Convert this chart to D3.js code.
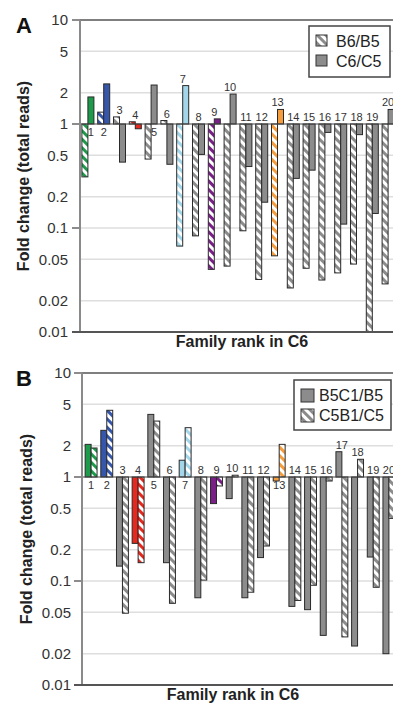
<!DOCTYPE html>
<html>

<head>
  <title>Fold change by family rank</title>
  <meta charset="UTF-8" />
  <script src="https://cdn.jsdelivr.net/npm/d3@7"></script>
</head>

<style>
  body {
    margin: 0;
    background: #fff;
    font-family: 'Liberation Sans', Arial, sans-serif;
  }

  svg {
    display: block;
  }
</style>

<body>
  <svg id="chart"></svg>
  <script>
    // families ranked in C6
    const families = ['1', '2', '3', '4', '5', '6', '7', '8', '9', '10',
      '11', '12', '13', '14', '15', '16', '17', '18', '19', '20'];

    const yTicks = [10, 5, 2, 1, 0.5, 0.2, 0.1, 0.05, 0.02, 0.01];
    const yTickLabels = ['10', '5', '2', '1', '0.5', '0.2', '0.1', '0.05', '0.02', '0.01'];

    // panel A
    const b6b5 = [0.31, 1.3, 1.17, 1.05, 0.46, 1.08, 0.067, 0.084, 0.040, 0.043,
      0.094, 0.032, 0.054, 0.0265, 0.041, 0.0316, 0.037, 0.045, 0.01, 0.029];
    const c6c5 = [1.82, 2.43, 0.43, 0.9, 2.37, 0.41, 2.34, 0.51, 1.12, 1.94,
      0.39, 0.177, 1.38, 0.30, 0.36, 0.83, 0.109, 0.79, 0.138, 1.38];

    // panel B
    const b5c1b5 = [2.06, 2.81, 0.139, 0.23, 4.0, 0.15, 1.45, 0.069, 0.555, 0.62,
      0.069, 0.168, 0.915, 0.057, 0.053, 0.030, 1.75, 0.0237, 0.17, 0.020];
    const c5b1c5 = [1.9, 4.38, 0.049, 0.15, 3.45, 0.061, 2.98, 0.102, 0.82, 1.04,
      0.078, 0.217, 2.06, 0.065, 0.091, 0.915, 0.029, 1.48, 0.087, 0.4];

    // family numbers drawn under the 1-line instead of above the bars
    const labelsBelowA = ['1', '2', '5'];
    const labelsBelowB = ['1', '2', '5', '7', '13'];

    const familyColors = {
      '1': '#1e9a4b', '2': '#3556aa', '4': '#e8271d',
      '7': '#a3d6e8', '9': '#7a1f88', '13': '#f59d3d'
    };
    const grey = '#8c8c8c';

    let width = 393,
      height = 706;

    let svg = d3.select('#chart').attr('width', width).attr('height', height);

    // hatch patterns, one per colour
    let defs = svg.append('defs');
    let hatchColors = [grey].concat(Object.values(familyColors));
    hatchColors.forEach(c => {
      let p = defs.append('pattern')
        .attr('id', 'hatch' + c.slice(1))
        .attr('patternUnits', 'userSpaceOnUse')
        .attr('width', 6).attr('height', 6)
        .attr('patternTransform', 'rotate(-45)');
      p.append('rect').attr('width', 6).attr('height', 6).attr('fill', '#fff');
      p.append('rect').attr('width', 3).attr('height', 6).attr('fill', c);
    });

    function colorOf(f) {
      return familyColors[f] || grey;
    }

    function drawPanel(cfg) {
      let g = svg.append('g');
      let y = d3.scaleLog().domain([0.01, 10]).range([cfg.bottom, cfg.top]);
      let x = d3.scaleBand().domain(families)
        .range([cfg.axisX, cfg.axisX + 316])
        .paddingInner(0.24).paddingOuter(cfg.outer);
      let xs = d3.scaleBand().domain([0, 1]).range([0, x.bandwidth()]);
      let right = width + 10;

      // grid
      g.append('g').selectAll('line')
        .data(yTicks.filter(t => t != 10 && t != 1 && t != 0.01))
        .enter().append('line')
        .attr('x1', cfg.axisX).attr('x2', right)
        .attr('y1', d => y(d)).attr('y2', d => y(d))
        .attr('stroke', '#dedede').attr('stroke-width', 1.5);

      // tick marks on decades
      g.append('g').selectAll('line')
        .data([10, 1, 0.1, 0.01])
        .enter().append('line')
        .attr('x1', cfg.axisX - 8).attr('x2', cfg.axisX)
        .attr('y1', d => y(d)).attr('y2', d => y(d))
        .attr('stroke', '#666').attr('stroke-width', 1.5);

      // y labels
      let axis = g.append('g')
        .attr('transform', 'translate(' + cfg.axisX + ',0)')
        .call(d3.axisLeft(y).tickValues(yTicks)
          .tickFormat((d, i) => yTickLabels[i]).tickSize(0).tickPadding(cfg.pad));
      axis.select('.domain').remove();
      axis.selectAll('text')
        .attr('font-family', "'Liberation Sans', Arial, sans-serif")
        .attr('font-size', 15).attr('fill', '#333');

      // top frame
      g.append('line')
        .attr('x1', cfg.axisX).attr('x2', right)
        .attr('y1', y(10)).attr('y2', y(10))
        .attr('stroke', '#555').attr('stroke-width', 1.5);

      // bars
      let bars = [];
      families.forEach((f, i) => {
        bars.push({ f: f, k: 0, v: cfg.left[i], hatch: cfg.leftHatch });
        bars.push({ f: f, k: 1, v: cfg.right[i], hatch: !cfg.leftHatch });
      });
      g.append('g').selectAll('rect')
        .data(bars)
        .enter().append('rect')
        .attr('x', d => x(d.f) + xs(d.k))
        .attr('width', xs.bandwidth())
        .attr('y', d => Math.min(y(d.v), y(1)))
        .attr('height', d => Math.abs(y(d.v) - y(1)))
        .attr('fill', d => d.hatch ? 'url(#hatch' + colorOf(d.f).slice(1) + ')' : colorOf(d.f))
        .attr('stroke', '#2a2a2a').attr('stroke-width', 1);

      // baseline at 1
      g.append('line')
        .attr('x1', cfg.axisX).attr('x2', right)
        .attr('y1', y(1)).attr('y2', y(1))
        .attr('stroke', '#444').attr('stroke-width', 1.2);

      // left axis and bottom axis
      g.append('line')
        .attr('x1', cfg.axisX).attr('x2', cfg.axisX)
        .attr('y1', y(10)).attr('y2', y(0.01))
        .attr('stroke', '#8a8a8a').attr('stroke-width', 2);
      g.append('line')
        .attr('x1', cfg.axisX - 8).attr('x2', right)
        .attr('y1', y(0.01)).attr('y2', y(0.01))
        .attr('stroke', '#555').attr('stroke-width', 2);

      // family numbers
      g.append('g').selectAll('text')
        .data(families)
        .enter().append('text')
        .attr('x', (f, i) => {
          let below = cfg.below.includes(f);
          if (below && cfg.left[i] < 0.8) return x(f) + xs(1) + xs.bandwidth() / 2;
          return x(f) + x.bandwidth() / 2;
        })
        .attr('y', (f, i) => {
          if (cfg.below.includes(f)) return y(1) + 12;
          return y(Math.max(cfg.left[i], cfg.right[i], 1)) - 3;
        })
        .attr('text-anchor', 'middle')
        .attr('font-size', 11).attr('fill', '#333')
        .text(f => f);

      // titles
      g.append('text')
        .attr('transform', 'translate(' + cfg.yTitleX + ',' + (cfg.top + cfg.bottom) / 2 + ') rotate(-90)')
        .attr('text-anchor', 'middle')
        .attr('font-weight', 'bold').attr('font-size', 16).attr('fill', '#222')
        .text('Fold change (total reads)');
      g.append('text')
        .attr('x', cfg.xTitleX).attr('y', cfg.bottom + 15)
        .attr('text-anchor', 'middle')
        .attr('font-weight', 'bold').attr('font-size', 16).attr('fill', '#222')
        .text('Family rank in C6');
      g.append('text')
        .attr('x', 16).attr('y', cfg.top + 13)
        .attr('font-weight', 'bold').attr('font-size', 22).attr('fill', '#111')
        .text(cfg.letter);

      // legend
      let lg = cfg.legend;
      g.append('rect')
        .attr('x', lg.x).attr('y', lg.y).attr('width', lg.w).attr('height', lg.h)
        .attr('fill', '#fff').attr('stroke', '#444').attr('stroke-width', 1.5);
      lg.items.forEach((it, i) => {
        g.append('rect')
          .attr('x', lg.x + 7).attr('y', lg.y + 9 + i * 20)
          .attr('width', lg.sw).attr('height', lg.sw)
          .attr('fill', it.hatch ? 'url(#hatch' + grey.slice(1) + ')' : grey)
          .attr('stroke', '#333').attr('stroke-width', 1);
        g.append('text')
          .attr('x', lg.x + lg.tx).attr('y', lg.y + 21 + i * 20)
          .attr('font-size', 16).attr('fill', '#222')
          .text(it.name);
      });
    }

    drawPanel({
      letter: 'A', top: 20, bottom: 332, axisX: 80, outer: 0.12, pad: 12,
      yTitleX: 29, xTitleX: 242,
      left: b6b5, right: c6c5, leftHatch: true, below: labelsBelowA,
      legend: {
        x: 309, y: 26, w: 81, h: 51, sw: 11, tx: 27,
        items: [{ name: 'B6/B5', hatch: true }, { name: 'C6/C5', hatch: false }]
      }
    });

    drawPanel({
      letter: 'B', top: 373, bottom: 685, axisX: 82, outer: 0.2, pad: 11,
      yTitleX: 32, xTitleX: 233,
      left: b5c1b5, right: c5b1c5, leftHatch: false, below: labelsBelowB,
      legend: {
        x: 294, y: 380, w: 97, h: 50, sw: 13, tx: 25,
        items: [{ name: 'B5C1/B5', hatch: false }, { name: 'C5B1/C5', hatch: true }]
      }
    });
  </script>
</body>

</html>
